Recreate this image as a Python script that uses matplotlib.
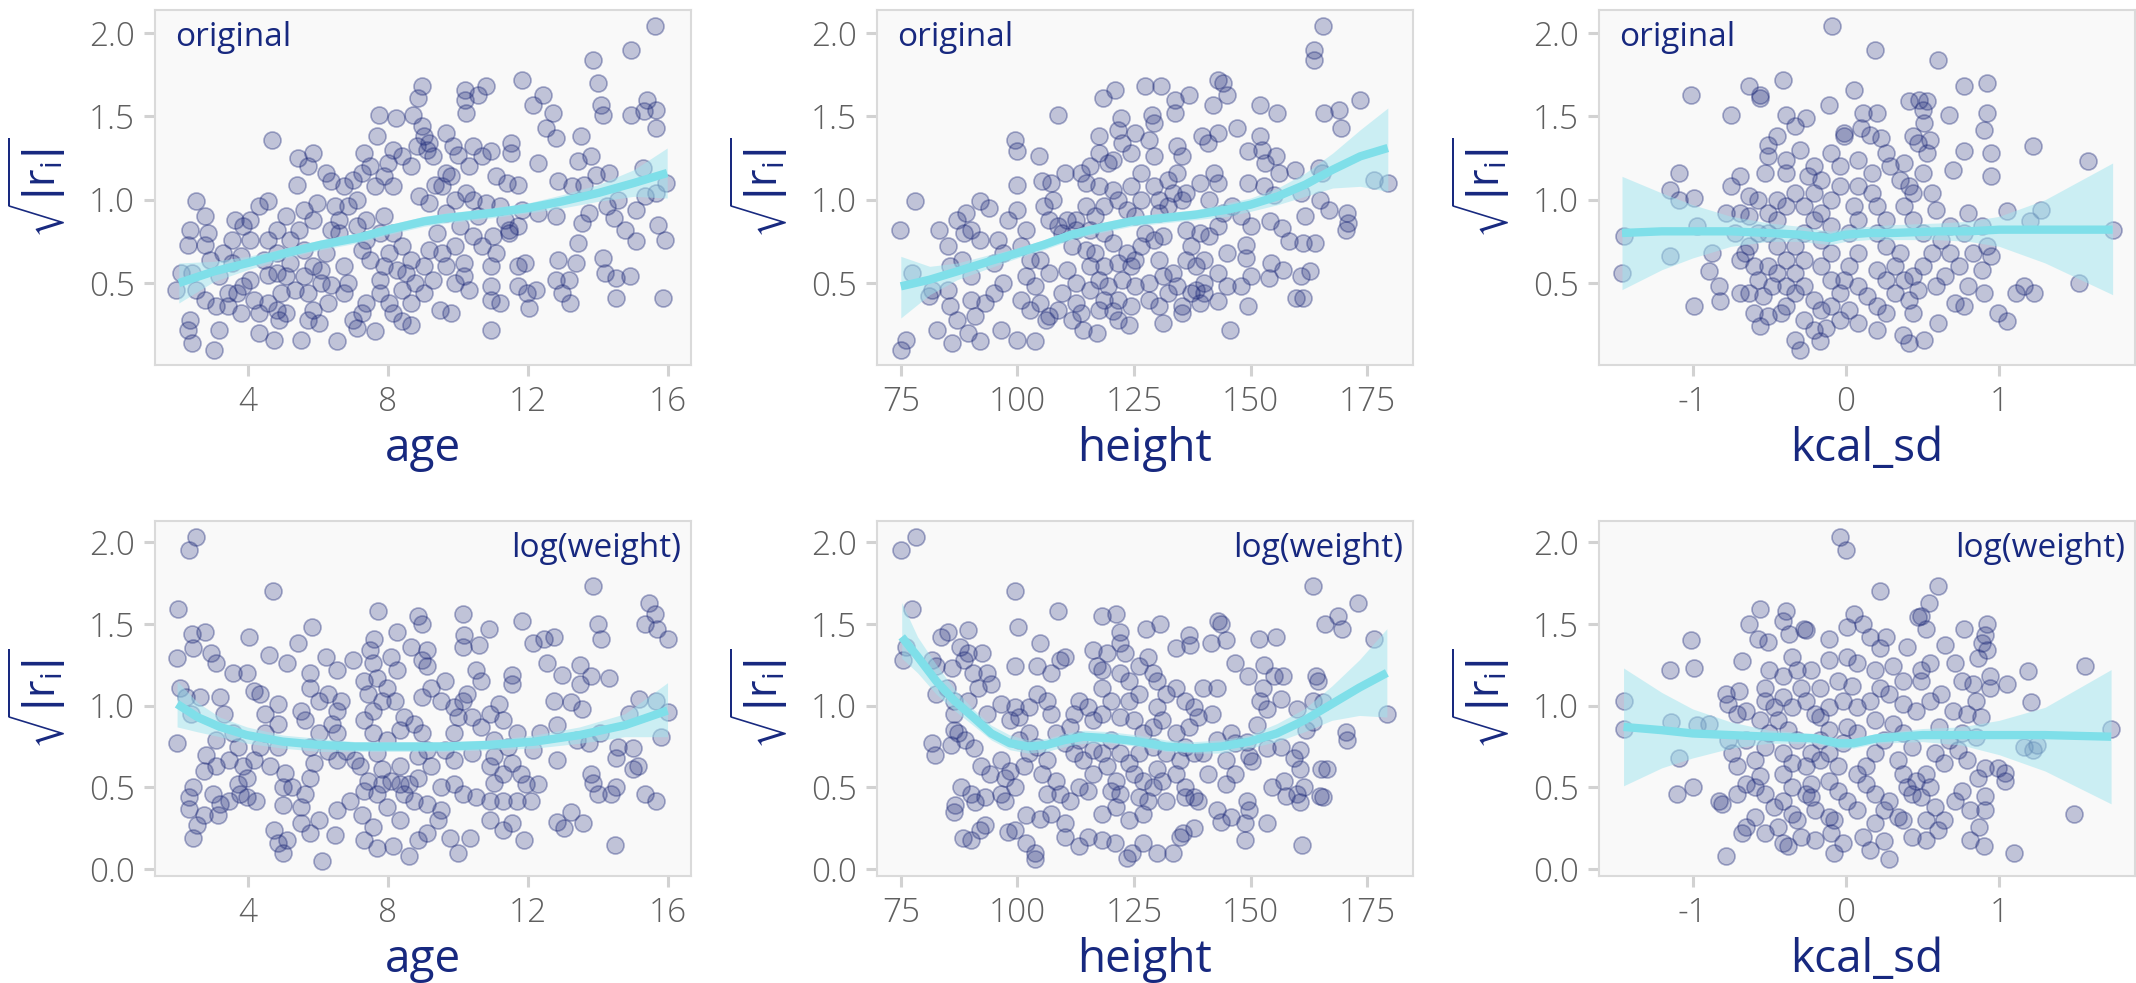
import matplotlib
matplotlib.use("Agg")
import matplotlib.pyplot as plt
from matplotlib import font_manager

# ---------------- data ----------------
# top row: sqrt(|r_i|) of the "original" model
age_orig_x = [15.63, 14.93, 13.85, 14.0, 11.83, 12.43, 12.13, 12.7, 14.09, 14.15, 14.93, 15.4, 15.66, 15.3, 15.66,
              12.5, 12.8, 13.5, 10.8, 10.2, 10.2, 10.57, 10.22, 8.97, 8.87, 8.71, 7.73, 8.24, 8.97, 9.03, 9.16, 9.67,
              7.69, 4.70, 11.52, 11.5, 10.43, 10.94, 9.86, 9.99, 10.69, 12.28, 13.43, 13.8, 13.93, 14.32, 15.27,
              15.95, 15.66, 12.85, 13.24, 13.6, 5.85, 5.44, 5.72, 5.4, 6.23, 6.36, 2.53, 2.78, 2.34, 2.85, 2.78,
              2.28, 2.09, 1.96, 2.4, 2.53, 2.34, 2.28, 2.4, 3.02, 3.17, 3.1, 2.79, 3.43, 3.55, 3.62, 3.87, 4.06,
              4.32, 4.57, 3.81, 3.87, 3.81, 4.32, 4.76, 5.53, 6.55, 7.63, 7.12, 7.0, 8.65, 8.4, 10.94, 9.8, 9.48,
              4.89, 5.08, 4.57, 4.06, 4.57, 5.08, 4.96, 5.85, 5.72, 6.04, 6.29, 6.1, 6.36, 5.85, 6.23, 6.74, 6.87,
              6.74, 7.38, 7.25, 7.76, 7.76, 7.5, 7.25, 7.12, 7.38, 7.89, 8.14, 8.4, 8.65, 8.52, 8.78, 9.03, 9.16,
              9.41, 9.67, 9.92, 9.54, 9.8, 9.35, 10.24, 10.43, 10.81, 11.07, 11.39, 11.71, 10.43, 9.92, 10.17,
              10.17, 9.92, 10.3, 10.94, 11.07, 11.0, 11.45, 11.71, 11.33, 10.94, 10.94, 11.2, 11.71, 11.9, 11.71,
              11.96, 12.02, 12.22, 12.79, 12.85, 13.36, 12.79, 13.17, 12.98, 13.2, 13.43, 13.55, 13.74, 14.13,
              14.2, 14.51, 14.51, 14.92, 14.26, 14.45, 14.77, 15.08, 15.08, 15.72, 15.91, 15.85, 14.58, 15.34,
              11.83, 12.28, 8.9, 9.16, 8.14, 7.63, 7.25, 7.5, 8.0, 8.14, 7.31, 8.4, 8.65, 7.89, 6.99, 6.74, 7.12,
              6.87, 6.49, 5.98, 5.59, 5.85, 5.46, 5.08, 4.83, 4.57, 5.21, 5.59, 4.83, 4.45, 6.61, 6.61, 6.36, 7.38,
              7.76, 8.02, 7.89, 8.27, 8.4, 8.02, 8.14, 8.65, 9.03, 9.28, 9.67, 9.54, 10.05, 10.56, 10.69, 9.67,
              9.28, 8.84, 9.1, 10.3, 11.2, 11.45, 4.06, 3.55, 3.3, 3.17, 2.92, 3.43, 3.68, 4.19, 4.32, 4.83, 5.34,
              5.59, 5.72, 6.1, 5.21, 4.83]
age_orig_y = [2.04, 1.90, 1.84, 1.70, 1.72, 1.63, 1.57, 1.52, 1.57, 1.51, 1.51, 1.60, 1.54, 1.53, 1.43,
              1.43, 1.37, 1.38, 1.68, 1.66, 1.60, 1.63, 1.52, 1.68, 1.61, 1.51, 1.51, 1.49, 1.44, 1.38, 1.34, 1.40,
              1.38, 1.36, 1.34, 1.28, 1.32, 1.29, 1.32, 1.27, 1.26, 1.22, 1.23, 1.26, 1.15, 1.16, 1.19,
              1.10, 1.04, 1.11, 1.08, 1.09, 1.28, 1.25, 1.20, 1.09, 1.16, 1.11, 0.99, 0.90, 0.82, 0.80, 0.73,
              0.73, 0.56, 0.46, 0.56, 0.46, 0.28, 0.22, 0.14, 0.10, 0.22, 0.36, 0.40, 0.44, 0.62, 0.88, 0.84, 0.88,
              0.96, 0.99, 0.66, 0.48, 0.32, 0.20, 0.16, 0.16, 0.15, 0.21, 0.23, 0.28, 0.25, 0.27, 0.22, 0.32, 0.34,
              0.28, 0.32, 0.38, 0.52, 0.55, 0.54, 0.44, 0.34, 0.28, 0.26, 0.38, 0.50, 0.49, 0.60, 0.68, 0.60, 0.50,
              0.44, 0.38, 0.32, 0.44, 0.52, 0.64, 0.70, 0.84, 0.88, 0.90, 0.80, 0.72, 0.64, 0.56, 0.50, 0.60, 0.70,
              0.80, 0.92, 1.00, 1.08, 1.14, 1.09, 1.04, 1.00, 0.98, 1.14, 1.10, 1.09, 0.78, 0.72, 0.62,
              0.54, 0.50, 0.46, 0.60, 0.68, 0.78, 0.82, 0.84, 0.88, 0.48, 0.40, 0.38, 0.60, 0.62, 0.48,
              0.44, 0.35, 0.46, 0.90, 0.64, 0.62, 0.52, 0.52, 0.44, 0.38, 0.74, 0.86, 0.92, 0.65,
              0.56, 0.53, 0.41, 0.54, 0.96, 0.89, 0.82, 0.94, 0.75, 0.85, 0.76, 0.41, 1.00, 1.02,
              0.94, 0.92, 1.02, 0.98, 1.08, 1.08, 1.16, 1.20, 1.22, 1.30, 1.28, 1.26, 1.20, 1.14, 1.12, 1.08, 1.00,
              0.96, 0.96, 0.98, 0.94, 0.88, 0.82, 0.90, 0.82, 0.76, 0.76, 0.70, 0.68, 0.64, 0.80, 0.88, 0.82, 0.76,
              0.80, 0.68, 0.60, 0.58, 0.46, 0.38, 0.32, 0.38, 0.44, 0.52, 0.60, 0.68, 0.84, 0.90, 0.72, 1.16,
              1.26, 1.32, 1.30, 1.20, 0.96, 0.80, 0.76, 0.76, 0.68, 0.54, 0.64, 0.36, 0.44, 0.40, 0.32, 0.34, 0.46,
              0.54, 0.44, 0.58, 0.62, 0.56]

height_orig_x = [165.5, 163.5, 163.5, 143.1, 144.1, 145.0, 141.9, 136.7, 133.7, 133.7, 127.4, 130.8, 121.0, 118.3,
                 108.7, 122.3, 128.9, 129.3, 151.9, 155.6, 165.7, 168.9, 173.5, 169.3, 147.0, 143.1, 139.6, 140.9,
                 151.9, 152.4, 149.5, 155.5, 153.0, 156.0, 159.4, 164.7, 165.2, 176.5, 179.4, 149.5, 152.9, 154.9,
                 160.8, 164.8, 166.7, 170.6, 170.9, 170.4, 161.7, 158.3, 161.3, 163.8, 156.7, 154.1, 150.0, 149.0,
                 149.0, 154.4, 156.9, 153.9, 150.0, 160.8, 162.7, 159.8, 161.3, 145.5, 149.5, 148.0, 145.0, 143.1,
                 139.1, 138.2, 135.2, 135.2, 131.3, 130.3, 123.9, 121.5, 120.5, 117.5, 117.0, 114.1, 111.6, 108.7,
                 106.2, 103.8, 99.9, 96.4, 92.0, 89.5, 85.9, 82.7, 75.1, 76.1, 81.0, 81.7, 77.3, 74.8, 78.0, 83.2,
                 85.1, 87.1, 89.0, 92.0, 94.0, 88.6, 90.0, 92.0, 85.6, 88.1, 90.0, 85.1, 85.6, 87.1, 90.0, 91.0,
                 93.0, 95.0, 96.9, 95.0, 96.9, 95.9, 97.9, 99.9, 99.9, 99.4, 99.9, 104.6, 105.3, 107.2, 110.2, 101.8,
                 100.8, 102.8, 101.8, 103.8, 100.8, 102.8, 104.8, 106.7, 105.7, 107.7, 106.7, 108.7, 109.6, 110.6,
                 112.6, 111.6, 114.6, 116.6, 115.6, 118.5, 117.5, 119.5, 121.5, 122.4, 124.4, 126.4, 127.4, 129.3,
                 131.3, 130.3, 133.3, 134.2, 136.2, 138.2, 140.1, 137.2, 136.2, 139.1, 141.1, 135.2, 136.2, 133.3,
                 130.3, 132.3, 134.2, 142.1, 143.1, 139.1, 135.2, 134.2, 129.3, 128.3, 125.3, 124.4, 122.4, 121.5,
                 117.5, 117.5, 119.5, 120.5, 115.6, 113.6, 114.6, 117.5, 120.5, 121.5, 123.4, 125.3, 126.4, 124.4,
                 126.4, 129.3, 130.3, 118.5, 116.6, 114.6, 112.6, 115.6, 118.5, 120.5, 123.4, 125.3, 121.5, 125.3,
                 128.3, 131.3, 132.3, 128.3, 124.4, 118.5, 115.6, 112.6, 110.6, 109.6, 112.6, 113.6, 106.7, 104.8,
                 132.3, 141.1, 144.1, 143.1, 146.0, 148.0, 145.0, 143.1, 140.1, 137.2, 140.1]
height_orig_y = [2.04, 1.90, 1.84, 1.72, 1.70, 1.63, 1.57, 1.63, 1.60, 1.52, 1.68, 1.68, 1.66, 1.61,
                 1.51, 1.49, 1.51, 1.46, 1.57, 1.52, 1.52, 1.54, 1.60, 1.43, 1.43, 1.40, 1.38, 1.34,
                 1.38, 1.30, 1.29, 1.26, 1.22, 1.16, 1.18, 1.19, 1.16, 1.12, 1.10, 1.10, 1.08, 1.03,
                 1.04, 1.00, 0.94, 0.92, 0.86, 0.82, 0.90, 0.75, 0.74, 0.74, 0.83, 0.87, 0.84, 0.73,
                 0.65, 0.62, 0.58, 0.53, 0.54, 0.54, 0.57, 0.41, 0.41, 0.22, 0.36, 0.48, 0.48, 0.39,
                 0.38, 0.46, 0.36, 0.32, 0.26, 0.36, 0.25, 0.28, 0.33, 0.34, 0.20, 0.22, 0.28, 0.34,
                 0.28, 0.15, 0.16, 0.22, 0.15, 0.20, 0.14, 0.22, 0.10, 0.16, 0.42, 0.46, 0.56, 0.82, 0.99, 0.82,
                 0.72, 0.88, 0.92, 0.99, 0.95, 0.80, 0.82, 0.76, 0.60, 0.64, 0.54, 0.46, 0.36, 0.28, 0.40, 0.30,
                 0.38, 0.44, 0.50, 0.62, 0.68, 0.76, 0.88, 0.94, 1.09, 1.36, 1.29, 1.26, 1.11, 1.10, 1.16, 0.82,
                 0.72, 0.64, 0.54, 0.48, 0.40, 0.34, 0.38, 0.30, 0.96, 1.00, 0.88, 0.84, 0.80, 0.88,
                 0.82, 0.72, 0.70, 0.68, 0.60, 0.60, 0.52, 0.48, 0.40, 0.52, 0.60, 0.72, 0.80, 0.76,
                 0.78, 0.64, 0.56, 0.48, 0.64, 0.60, 0.64, 0.72, 0.82, 0.80, 0.78, 1.00, 1.04, 1.04,
                 1.00, 1.12, 1.16, 1.16, 1.10, 1.10, 1.26, 1.32, 1.26, 1.36, 1.40, 1.28, 1.34, 1.42,
                 1.38, 1.28, 1.22, 1.24, 1.20, 1.16, 1.10, 1.08, 1.06, 1.00, 0.94, 0.90, 1.00, 1.08,
                 1.16, 1.08, 0.92, 0.96, 0.90, 0.96, 0.88, 0.82, 0.80, 0.74, 0.68, 0.64, 0.62, 0.48,
                 0.50, 0.54, 0.44, 0.40, 0.36, 0.40, 0.46, 0.50, 0.58, 0.44, 0.38, 0.32, 0.56, 0.64,
                 0.96, 1.00, 0.92, 0.84, 0.96, 0.90, 0.68, 0.56, 0.50, 0.44, 0.44]

kcal_orig_x = [-0.09, 0.19, 0.60, -0.41, -0.63, -0.56, -0.56, -1.01, 0.05, 0.77, 0.92, -0.11, -0.75, -0.39, -0.26,
               0.11, 0.20, 0.41, 0.48, 0.53, 0.50, 0.51, 0.67, 0.92, 0.90, 0.10, -0.01, -0.01, 0.16, 0.23, -0.33,
               -0.45, -0.51, 0.44, 0.47, 0.55, 0.77, 0.95, 1.22, 1.58, 0.70, 0.95, 0.26, -0.10, 0.08, -0.51, -0.53,
               -0.39, -0.30, -0.39, -0.25, -1.09, -1.15, -1.09, -0.99, -0.97, -1.15, -1.45, -1.46, -0.99, -0.82,
               -0.69, -0.89, -0.87, -0.83, -0.78, -0.75, -0.69, -0.63, -0.69, -0.72, -0.66, -0.60, -0.57, -0.54,
               -0.60, -0.56, -0.51, -0.39, -0.33, -0.30, -0.21, -0.17, -0.13, -0.10, 0.02, 0.08, 0.20, 0.37, 0.41,
               0.51, 0.60, 0.71, 0.77, 0.90, 0.99, 1.05, 1.11, 1.16, 1.23, 1.52, 1.20, 1.27, 1.05, 1.74, 0.95, 0.92,
               0.89, 0.80, 0.77, 0.83, 0.74, 0.68, 0.62, 0.59, 0.56, 0.50, 0.41, 0.35, 0.29, 0.38, 0.44, 0.50, 0.56,
               0.50, 0.44, 0.47, 0.41, 0.44, 0.59, 0.32, 0.26, 0.20, 0.32, 0.35, 0.26, 0.20, 0.26, 0.20, 0.17, 0.08,
               0.05, 0.08, 0.02, 0.08, 0.02, -0.01, 0.08, 0.14, 0.20, -0.04, -0.10, -0.16, -0.10, -0.16, -0.10,
               -0.16, -0.10, -0.04, -0.16, -0.21, -0.27, -0.21, -0.27, -0.33, -0.27, -0.33, -0.27, -0.33, -0.21,
               -0.16, -0.39, -0.45, -0.39, -0.45, -0.51, -0.45, -0.39, -0.33, -0.45, -0.51, -0.57, -0.63, -0.57,
               -0.63, -0.69, -0.51, -0.48, -0.63, -0.42, -0.27, -0.04, 0.26, 0.38, 0.65, 0.80, 0.89, 0.68, 0.44,
               0.53, 0.38, 0.17, -0.04, -0.21]
kcal_orig_y = [2.04, 1.90, 1.84, 1.72, 1.68, 1.63, 1.61, 1.63, 1.66, 1.68, 1.70, 1.57, 1.51, 1.51, 1.49,
               1.52, 1.52, 1.59, 1.60, 1.59, 1.54, 1.46, 1.51, 1.52, 1.42, 1.43, 1.40, 1.38, 1.39, 1.37, 1.44,
               1.38, 1.33, 1.38, 1.34, 1.36, 1.29, 1.28, 1.32, 1.23, 1.18, 1.14, 1.28, 1.28, 1.24, 1.26, 1.16,
               1.24, 1.30, 1.16, 1.14, 1.16, 1.06, 1.00, 1.01, 0.84, 0.66, 0.78, 0.56, 0.36, 0.39,
               0.44, 0.57, 0.68, 0.48, 0.92, 1.08, 1.14, 1.02, 0.92, 0.80, 0.68, 0.60, 0.52, 0.42,
               0.32, 0.24, 0.30, 0.36, 0.16, 0.10, 0.22, 0.15, 0.23, 0.36, 0.34, 0.26, 0.22, 0.19, 0.14,
               0.16, 0.26, 0.38, 0.36, 0.44, 0.32, 0.27, 0.44, 0.48, 0.44, 0.50, 0.87, 0.94, 0.93, 0.82, 0.66, 0.72,
               0.84, 0.92, 0.80, 0.68, 0.60, 0.68, 0.76, 0.94, 1.04, 1.16, 1.08, 1.12, 1.20, 0.96, 0.88, 0.80, 0.68,
               0.60, 0.54, 0.46, 0.40, 0.32, 0.48, 0.44, 0.52, 0.58, 0.60, 0.68, 0.72, 0.80, 0.88, 0.96, 1.04, 1.08,
               0.96, 0.88, 0.80, 0.68, 0.60, 0.52, 0.48, 0.42, 0.36, 0.44, 0.52, 0.60, 0.68, 0.76, 0.84,
               0.92, 1.00, 1.08, 1.12, 1.04, 0.96, 0.88, 0.80, 0.72, 0.64, 0.56, 0.48, 0.44, 0.40,
               0.34, 0.48, 0.56, 0.64, 0.72, 0.80, 0.88, 0.96, 1.04, 1.00, 0.92, 1.00, 0.90, 0.80,
               0.72, 0.64, 0.60, 0.48, 0.44, 0.32, 0.28, 0.28, 0.32, 0.52, 0.54, 0.48, 0.58, 0.84, 1.04,
               1.28, 1.22, 1.16, 1.20, 1.20]

# bottom row: sqrt(|r_i|) of the log(weight) model
age_log_x = [2.52, 2.31, 4.71, 2.02, 13.86, 7.72, 10.14, 8.85, 8.98, 11.84, 13.99, 14.09, 15.44, 15.63, 15.33,
             15.68, 16.0, 5.84, 8.25, 10.87, 10.17, 12.13, 12.45, 12.74, 4.04, 2.40, 2.78, 5.42, 7.6, 7.48, 10.14,
             10.59, 9.11, 2.43, 1.98, 2.95, 3.08, 4.59, 6.22, 6.99, 8.27, 9.11, 10.52, 11.55, 12.55, 13.47, 12.96,
             13.8, 14.31, 13.47, 12.74, 13.22, 13.54, 15.17, 15.66, 16.0, 14.89, 12.83, 12.83, 13.41, 13.73,
             14.05, 14.56, 14.5, 15.0, 15.78, 15.14, 14.99, 13.8, 13.86, 14.5, 14.37, 13.99, 15.33, 15.66, 12.83,
             13.03, 13.22, 13.58, 14.48, 11.87, 11.29, 10.91, 11.55, 10.33, 10.01, 9.76, 9.43, 9.11, 8.85, 8.6,
             8.15, 7.70, 7.31, 7.57, 7.25, 6.48, 5.77, 6.13, 5.0, 4.74, 4.87, 5.13, 5.51, 6.03, 5.0, 4.23, 3.97,
             3.78, 3.46, 3.2, 3.14, 2.75, 2.56, 2.43, 2.31, 2.31, 2.43, 3.01, 2.75, 3.08, 2.82, 1.98, 2.37, 2.05,
             2.24, 2.63, 3.08, 3.2, 3.33, 3.59, 3.72, 3.46, 3.85, 3.97, 3.72, 4.17, 4.36, 4.49, 4.36, 4.49, 4.87,
             4.87, 4.87, 4.62, 5.06, 5.0, 5.26, 5.64, 5.77, 5.9, 5.77, 6.03, 5.64, 5.51, 5.77, 6.03, 6.28, 6.54,
             6.67, 6.41, 6.54, 6.28, 6.54, 6.8, 7.06, 7.19, 7.44, 7.31, 7.7, 7.83, 8.08, 8.34, 8.47, 8.73, 8.6,
             8.85, 8.34, 7.83, 7.7, 7.96, 7.57, 7.31, 7.57, 7.83, 7.44, 7.31, 7.7, 7.96, 8.21, 8.47, 8.34, 8.73,
             8.98, 9.11, 8.85, 9.24, 8.98, 9.24, 9.62, 9.50, 9.88, 10.14, 10.01, 10.40, 9.88, 9.62, 9.88, 9.5,
             9.88, 10.14, 10.52, 10.4, 10.65, 10.91, 11.17, 11.29, 11.04, 11.04, 10.91, 11.04, 10.91, 11.29,
             11.29, 11.55, 11.81, 11.94, 11.68, 12.07, 12.27, 11.42, 11.68, 12.33, 12.13, 11.55, 10.65, 10.27,
             8.66, 8.98, 8.08, 7.57, 6.54, 5.77, 5.13, 3.97, 3.59, 4.17, 5.51, 6.54, 6.93, 7.96, 8.34, 9.11, 9.5]
age_log_y = [2.03, 1.95, 1.70, 1.59, 1.73, 1.58, 1.56, 1.55, 1.50, 1.52, 1.50, 1.41, 1.63, 1.56, 1.50,
             1.47, 1.41, 1.48, 1.45, 1.47, 1.43, 1.38, 1.41, 1.42, 1.42, 1.44, 1.45, 1.38, 1.41, 1.34, 1.36,
             1.37, 1.34, 1.35, 1.29, 1.32, 1.26, 1.31, 1.30, 1.28, 1.22, 1.24, 1.22, 1.19, 1.26, 1.25, 1.19,
             1.18, 1.17, 1.13, 1.03, 1.02, 0.98, 1.04, 1.03, 0.96, 0.95, 0.88, 0.67, 0.79, 0.77,
             0.83, 0.75, 0.68, 0.74, 0.81, 0.63, 0.61, 0.58, 0.53, 0.50, 0.46, 0.46, 0.46, 0.42, 0.29,
             0.25, 0.35, 0.28, 0.15, 0.18, 0.24, 0.30, 0.28, 0.19, 0.10, 0.19, 0.30, 0.22, 0.18, 0.08,
             0.14, 0.13, 0.18, 0.26, 0.33, 0.21, 0.22, 0.05, 0.10, 0.24, 0.16, 0.18, 0.28, 0.30, 0.39, 0.42, 0.44,
             0.46, 0.42, 0.40, 0.33, 0.33, 0.27, 0.19, 0.37, 0.44, 0.50, 0.46, 0.60, 0.63, 0.70, 0.77, 0.95, 1.11,
             1.05, 1.05, 0.79, 1.05, 0.95, 0.83, 0.75, 0.67, 0.63, 0.56, 0.52, 0.67, 0.75, 0.83, 1.07, 0.95, 1.01,
             0.89, 0.75, 0.63, 0.59, 0.50, 0.50, 0.46, 0.56, 0.65, 0.75, 0.83, 0.91, 0.97, 1.11, 1.03, 1.07, 0.97,
             1.03, 0.89, 0.83, 0.72, 0.67, 0.72, 0.67, 0.63, 0.54, 0.48, 0.46, 0.52, 0.54, 0.52, 0.46, 0.42, 0.52,
             0.56, 0.63, 0.61, 0.71, 0.79, 0.83, 0.91, 0.97, 1.03, 1.07, 1.15, 1.17, 1.11, 1.03, 0.93, 0.85, 0.89,
             0.83, 0.73, 0.69, 0.63, 1.05, 1.11, 1.15, 1.03, 0.99, 1.03, 0.93, 0.93, 0.83, 0.73, 0.67, 0.50,
             0.52, 0.46, 0.44, 0.71, 0.87, 0.95, 1.01, 0.91, 0.79, 0.69, 0.63, 0.53, 0.42, 0.42,
             0.58, 0.65, 0.58, 0.52, 0.42, 0.42, 0.52, 0.75, 0.83, 0.83, 0.73, 1.13, 1.15, 1.07,
             1.36, 1.28, 1.30, 1.26, 1.22, 1.20, 1.26, 1.20, 1.20, 1.09, 0.38, 0.36, 0.42, 0.38, 0.30, 0.40, 0.36]

height_log_x = [75.0, 78.2, 77.5, 75.5, 76.2, 99.4, 100.1, 108.7, 118.1, 121.1, 122.0, 127.5, 130.6, 143.1, 143.7,
                136.8, 137.1, 133.9, 141.6, 144.7, 151.8, 155.4, 163.3, 173.0, 165.9, 168.7, 169.6, 176.4, 146.7,
                152.9, 149.5, 155.1, 157.0, 163.9, 164.4, 152.6, 156.6, 152.1, 153.6, 163.4, 165.4, 160.0, 163.4,
                161.9, 170.4, 170.7, 179.2, 151.4, 153.6, 156.6, 160.5, 159.3, 160.5, 165.0, 166.4, 149.2, 149.7,
                150.2, 154.6, 157.1, 157.5, 160.0, 160.5, 161.5, 164.9, 165.4, 161.0, 153.6, 148.7, 148.7, 149.7,
                149.2, 145.7, 143.7, 142.8, 144.8, 146.7, 140.8, 137.8, 138.8, 135.9, 137.8, 134.9, 135.4, 133.4,
                129.9, 127.0, 124.5, 123.5, 121.0, 118.1, 115.1, 113.2, 110.2, 110.2, 107.2, 103.8, 103.8, 101.8,
                99.4, 97.9, 101.8, 104.8, 93.0, 92.0, 90.0, 88.3, 86.5, 86.7, 88.0, 90.0, 91.0, 93.0, 81.6, 82.4,
                85.8, 87.3, 88.7, 90.7, 92.2, 94.2, 96.4, 97.4, 98.4, 96.4, 97.4, 99.4, 101.4, 102.4, 100.4, 102.4,
                104.3, 106.3, 105.3, 108.2, 106.3, 109.2, 111.2, 113.2, 115.1, 116.1, 114.1, 112.1, 110.2, 108.2,
                111.2, 107.2, 106.3, 104.3, 107.2, 109.2, 110.2, 104.8, 104.3, 99.4, 99.4, 100.4, 98.4, 102.4,
                113.2, 115.1, 112.1, 116.1, 118.1, 120.0, 118.1, 117.1, 118.1, 116.1, 119.1, 122.0, 123.0, 122.0,
                124.0, 126.0, 128.0, 129.0, 129.9, 126.0, 124.0, 122.0, 125.0, 127.0, 129.0, 130.9, 129.9, 131.9,
                133.9, 135.9, 137.8, 139.8, 142.8, 141.8, 138.8, 136.8, 133.9, 135.9, 137.8, 134.9, 131.9, 129.0,
                126.0, 124.0, 122.0, 120.0, 118.1, 119.1, 121.1, 120.0, 122.0, 121.1, 118.1, 125.0, 127.0, 129.0,
                130.9, 128.0, 126.0, 131.9, 127.0, 124.0, 129.9, 133.9, 135.9, 139.8, 142.8, 145.7, 146.7, 144.7,
                116.1, 113.2, 90.5, 88.5, 89.5, 87.6, 85.1, 83.6, 89.5, 92.5, 93.5, 94.4, 86.0, 81.6, 82.6, 85.0,
                86.5, 89.5, 93.5, 86.5, 82.6, 96.4, 91.5, 86.5]
height_log_y = [1.95, 2.03, 1.59, 1.28, 1.36, 1.70, 1.48, 1.58, 1.55, 1.56, 1.45, 1.47, 1.50, 1.52, 1.50,
                1.43, 1.37, 1.35, 1.38, 1.40, 1.41, 1.42, 1.73, 1.63, 1.50, 1.55, 1.47, 1.41, 1.26,
                1.25, 1.18, 1.18, 1.18, 1.18, 1.15, 1.11, 1.04, 1.03, 0.98, 1.03, 1.02, 0.98, 0.90,
                0.85, 0.84, 0.79, 0.95, 0.88, 0.74, 0.75, 0.73, 0.68, 0.61, 0.61, 0.61, 0.78, 0.69,
                0.66, 0.50, 0.54, 0.45, 0.46, 0.41, 0.50, 0.45, 0.44, 0.15, 0.28, 0.18, 0.28, 0.36,
                0.42, 0.32, 0.29, 0.36, 0.52, 0.58, 0.58, 0.44, 0.42, 0.44, 0.25, 0.20, 0.22, 0.10,
                0.10, 0.16, 0.10, 0.07, 0.16, 0.18, 0.20, 0.14, 0.20, 0.28, 0.34, 0.10, 0.06, 0.16,
                0.24, 0.23, 0.33, 0.31, 0.27, 0.24, 0.18, 0.19, 0.35, 0.39, 0.50, 0.46, 0.41, 0.44, 0.77, 0.70,
                0.76, 0.83, 0.79, 0.74, 0.63, 0.58, 0.67, 0.56, 0.60, 0.46, 0.42, 0.50, 0.63, 0.71, 0.79, 0.83,
                0.75, 0.67, 0.58, 0.54, 0.46, 0.46, 0.42, 0.50, 0.48, 0.58, 0.67, 0.71, 0.77, 0.83,
                0.87, 0.95, 1.03, 1.07, 1.20, 1.28, 1.30, 1.38, 1.24, 1.24, 0.99, 0.93, 0.91, 0.99,
                1.03, 0.99, 0.95, 0.91, 0.95, 1.03, 1.11, 1.24, 1.22, 1.34, 1.32, 1.38, 1.32, 1.20,
                1.15, 1.24, 1.30, 1.20, 1.15, 1.07, 1.03, 0.93, 0.91, 0.83, 0.87, 0.91, 0.99, 1.07,
                1.11, 1.03, 0.99, 1.11, 1.11, 0.95, 0.93, 0.87, 0.83, 0.75, 0.71, 0.67, 0.71, 0.75,
                0.71, 0.65, 0.71, 0.79, 0.71, 0.63, 0.54, 0.48, 0.46, 0.38, 0.34, 0.58, 0.54, 0.50,
                0.54, 0.42, 0.44, 0.42, 0.34, 0.30, 0.61, 0.58, 0.50, 0.71, 0.79, 0.83, 0.77, 0.67,
                0.73, 0.79, 1.20, 1.28, 1.32, 1.36, 1.45, 1.42, 1.46, 1.32, 1.20, 1.13, 1.23, 1.28, 1.24, 1.11,
                1.03, 1.03, 0.95, 0.95, 1.07, 1.01, 1.11, 0.85]

kcal_log_x = [-0.04, 0.0, 0.22, 0.60, 0.54, 0.49, 0.47, -0.56, -0.39, -0.41, -0.63, -0.26, -0.27, 0.05, 0.11,
              0.01, 0.52, 0.77, 0.92, 0.91, 0.89, 0.92, -1.01, -0.57, -0.51, -0.37, -0.11, 0.16, 0.26, 0.40, 0.22,
              0.65, 0.86, 0.71, 1.19, 1.56, 0.94, 1.05, 1.21, 0.76, -1.15, -0.99, -0.68, -0.50, -0.35, -0.32,
              -0.41, -0.23, -0.11, 0.01, 0.07, 0.19, 0.31, 0.49, 0.55, 0.49, 0.37, 0.22, 0.04, -0.05, -0.17,
              -0.29, -0.53, -0.53, -0.70, -0.78, -0.77, -0.71, -0.65, -0.56, -0.47, -0.41, -0.35, -0.26, -0.20,
              -0.11, -0.02, 0.07, 0.16, 0.28, 0.37, 0.46, 0.55, 0.62, 0.70, 0.79, 0.85, 0.88, 0.83, 0.94, -1.45,
              -1.45, -1.14, -0.97, -0.89, -1.09, -1.10, -1.0, -0.83, -0.81, -0.78, -0.68, -0.65, -0.53, -0.41,
              -0.38, -0.29, -0.20, -0.10, -0.08, -0.02, 0.11, 0.16, 0.28, 0.25, 0.43, 0.52, 0.60, 0.81, 0.90,
              0.87, 0.91, 0.91, 0.81, 0.71, 0.76, 1.10, 1.49, 1.04, 1.04, 0.99, 1.16, 1.25, 1.22, 1.73, 0.91,
              0.86, 0.79, 0.73, 0.64, 0.58, 0.52, 0.55, 0.49, 0.43, 0.40, 0.46, 0.37, 0.34, 0.43, 0.37, 0.31,
              0.25, 0.19, 0.13, 0.07, 0.13, 0.19, 0.28, 0.25, 0.34, 0.37, 0.19, 0.07, 0.01, -0.05, -0.11, -0.05,
              -0.11, -0.02, 0.07, 0.01, -0.11, -0.17, -0.23, -0.26, -0.23, -0.26, -0.23, -0.20, -0.11, -0.08,
              -0.35, -0.41, -0.35, -0.41, -0.35, -0.41, -0.32, -0.38, -0.44, -0.50, -0.53, -0.59, -0.56, -0.59,
              -0.53, -0.65, -0.71, -0.74, -0.77, -0.65, -0.71, -0.47, -0.59, -0.44, -0.32, -0.17, -0.17, 0.19,
              0.61, 0.76, 0.67, 0.85, 0.58, 0.64, 0.52]
kcal_log_y = [2.03, 1.95, 1.70, 1.73, 1.63, 1.55, 1.54, 1.59, 1.58, 1.52, 1.50, 1.46, 1.47, 1.56, 1.50,
              1.48, 1.47, 1.47, 1.50, 1.43, 1.38, 1.34, 1.40, 1.41, 1.39, 1.44, 1.41, 1.42, 1.42, 1.36, 1.35,
              1.37, 1.29, 1.26, 1.21, 1.24, 1.18, 1.13, 1.02, 1.15, 1.22, 1.23, 1.27, 1.22, 1.30, 1.22,
              1.18, 1.22, 1.28, 1.30, 1.26, 1.22, 1.24, 1.22, 1.26, 1.15, 1.15, 1.11, 1.12, 1.15, 1.11,
              1.11, 1.11, 1.03, 1.09, 1.07, 1.01, 0.95, 0.97, 0.91, 0.99, 1.05, 0.99, 1.03, 0.95,
              0.99, 1.03, 0.99, 1.03, 1.07, 1.01, 0.97, 1.03, 1.07, 0.97, 0.95, 1.03, 0.93, 1.13, 1.11, 1.03,
              0.86, 0.90, 0.88, 0.89, 0.68, 0.46, 0.50, 0.42, 0.40, 0.08, 0.22, 0.26, 0.22, 0.16,
              0.14, 0.20, 0.18, 0.22, 0.10, 0.16, 0.20, 0.12, 0.06, 0.17, 0.20, 0.18, 0.24, 0.18, 0.14,
              0.26, 0.36, 0.45, 0.36, 0.42, 0.48, 0.10, 0.34, 0.54, 0.59, 0.62, 0.75, 0.76, 0.73, 0.86, 0.62,
              0.56, 0.67, 0.73, 0.65, 0.71, 0.58, 0.50, 0.44, 0.46, 0.50, 0.54, 0.58, 0.67, 0.75, 0.83, 0.89,
              0.79, 0.71, 0.63, 0.58, 0.52, 0.46, 0.42, 0.36, 0.32, 0.30, 0.28, 0.36, 0.42, 0.48, 0.54, 0.63,
              0.71, 0.77, 0.83, 0.87, 0.85, 0.79, 0.71, 0.63, 0.52, 0.46, 0.44, 0.36, 0.32, 0.30,
              0.34, 0.42, 0.50, 0.58, 0.65, 0.71, 0.79, 0.85, 0.91, 0.83, 0.75, 0.67, 0.57, 0.50,
              0.46, 0.52, 0.63, 0.71, 0.79, 0.79, 0.46, 0.38, 0.32, 0.26, 0.30, 0.67, 0.93, 0.91,
              0.87, 0.83, 0.79, 0.81, 0.38, 0.30, 0.30]

# loess smooth line and its confidence band, read at a few x positions
age_orig_sx = [2.03, 3.04, 4.0, 5.08, 6.1, 7.12, 8.01, 9.03, 9.67, 10.94, 12.0, 12.98, 14.0, 15.02, 15.97]
age_orig_sy = [0.50, 0.57, 0.62, 0.68, 0.73, 0.77, 0.82, 0.87, 0.89, 0.92, 0.95, 0.99, 1.04, 1.10, 1.16]
age_orig_lo = [0.38, 0.51, 0.58, 0.65, 0.70, 0.74, 0.79, 0.84, 0.86, 0.89, 0.92, 0.95, 0.99, 1.02, 1.01]
age_orig_hi = [0.62, 0.63, 0.66, 0.71, 0.76, 0.80, 0.85, 0.90, 0.92, 0.95, 0.98, 1.03, 1.09, 1.18, 1.31]

height_orig_sx = [75, 81.2, 87.1, 94, 100, 105.7, 111.6, 117.5, 124.4, 131.3, 138.2, 145, 150, 155.8, 161.7, 167.6,
                  173.5, 179.4]
height_orig_sy = [0.48, 0.52, 0.57, 0.63, 0.68, 0.73, 0.79, 0.83, 0.87, 0.89, 0.91, 0.94, 0.97, 1.02, 1.09, 1.18,
                  1.26, 1.31]
height_orig_lo = [0.29, 0.43, 0.52, 0.59, 0.65, 0.70, 0.76, 0.80, 0.84, 0.86, 0.88, 0.90, 0.93, 0.97, 1.02, 1.07,
                  1.08, 1.05]
height_orig_hi = [0.66, 0.60, 0.62, 0.67, 0.71, 0.76, 0.82, 0.86, 0.90, 0.92, 0.94, 0.98, 1.01, 1.07, 1.16, 1.28,
                  1.42, 1.55]

kcal_orig_sx = [-1.46, -1.2, -1.0, -0.75, -0.5, -0.3, -0.1, 0.0, 0.15, 0.3, 0.6, 0.8, 1.0, 1.3, 1.74]
kcal_orig_sy = [0.80, 0.81, 0.81, 0.81, 0.80, 0.79, 0.77, 0.79, 0.80, 0.80, 0.81, 0.81, 0.82, 0.82, 0.82]
kcal_orig_lo = [0.46, 0.58, 0.65, 0.72, 0.75, 0.75, 0.73, 0.75, 0.76, 0.76, 0.76, 0.75, 0.72, 0.62, 0.43]
kcal_orig_hi = [1.14, 1.04, 0.97, 0.90, 0.86, 0.84, 0.81, 0.83, 0.84, 0.85, 0.86, 0.87, 0.90, 1.00, 1.22]

age_log_sx = [1.98, 2.56, 3.2, 3.97, 5.0, 6.03, 7.06, 8.34, 9.62, 10.91, 12.19, 13.47, 14.76, 15.98]
age_log_sy = [1.01, 0.93, 0.87, 0.82, 0.78, 0.76, 0.75, 0.75, 0.75, 0.76, 0.78, 0.82, 0.88, 0.97]
age_log_lo = [0.87, 0.84, 0.81, 0.77, 0.74, 0.72, 0.72, 0.72, 0.72, 0.73, 0.74, 0.77, 0.81, 0.81]
age_log_hi = [1.15, 1.02, 0.93, 0.87, 0.82, 0.80, 0.78, 0.78, 0.78, 0.79, 0.82, 0.87, 0.95, 1.14]

height_log_sx = [75.2, 78.6, 82.6, 86.5, 90.5, 94.4, 98.4, 102.3, 106.3, 110.2, 114.2, 120.1, 126, 131.9, 137.8,
                 143.7, 149.7, 155.6, 161.5, 167.4, 173.3, 179.2]
height_log_sy = [1.42, 1.30, 1.15, 1.03, 0.93, 0.83, 0.77, 0.75, 0.76, 0.79, 0.81, 0.80, 0.78, 0.75, 0.74, 0.75,
                 0.78, 0.83, 0.91, 1.01, 1.11, 1.20]
height_log_lo = [1.29, 1.20, 1.07, 0.97, 0.88, 0.79, 0.73, 0.71, 0.72, 0.75, 0.77, 0.77, 0.75, 0.72, 0.71, 0.71,
                 0.74, 0.78, 0.84, 0.91, 0.94, 0.93]
height_log_hi = [1.63, 1.42, 1.25, 1.10, 0.98, 0.88, 0.82, 0.79, 0.80, 0.83, 0.85, 0.84, 0.82, 0.79, 0.78, 0.79,
                 0.82, 0.89, 0.98, 1.12, 1.28, 1.47]

kcal_log_sx = [-1.45, -1.2, -1.0, -0.75, -0.5, -0.2, -0.05, 0.05, 0.2, 0.5, 0.75, 1.0, 1.3, 1.73]
kcal_log_sy = [0.87, 0.85, 0.83, 0.82, 0.81, 0.80, 0.77, 0.77, 0.80, 0.82, 0.82, 0.82, 0.82, 0.81]
kcal_log_lo = [0.51, 0.62, 0.68, 0.74, 0.77, 0.77, 0.74, 0.74, 0.77, 0.78, 0.76, 0.70, 0.60, 0.40]
kcal_log_hi = [1.23, 1.08, 0.98, 0.90, 0.85, 0.83, 0.80, 0.80, 0.83, 0.86, 0.87, 0.91, 0.99, 1.22]

x_labels = ["age", "height", "kcal_sd"]
row_tags = ["original", "log(weight)"]
x_ticks = [[4, 8, 12, 16], [75, 100, 125, 150, 175], [-1, 0, 1]]
x_tick_labels = [["4", "8", "12", "16"], ["75", "100", "125", "150", "175"], ["-1", "0", "1"]]
y_ticks = [[0.5, 1.0, 1.5, 2.0], [0.0, 0.5, 1.0, 1.5, 2.0]]
x_limits = [(1.35, 16.65), (69.9, 184.8), (-1.61, 1.886)]
y_limits = [(0.008, 2.138), (-0.041, 2.128)]

# ---------------- style ----------------
TEXT_NAVY = "#17287f"
CYAN = "#7fdfe9"
BAND = "#9fe4ee"
FACE = "#f9f9f9"
SPINE = "#dadada"
TICK = "#d2d2d2"
TICKLABEL = "#5f5f5f"

names = {f.name for f in font_manager.fontManager.ttflist}
base = "Open Sans" if "Open Sans" in names else ("Lato" if "Lato" in names else "DejaVu Sans")
plt.rcParams["font.family"] = [base, "DejaVu Sans"]
plt.rcParams["mathtext.fontset"] = "dejavusans"

W, H = 2136, 983
fig = plt.figure(figsize=(W / 100, H / 100), dpi=100)
fig.patch.set_facecolor("white")

lefts = [155, 877, 1599]
pw = 536
tops = [10, 521]
ph = 355

panels = [
    (age_orig_x, age_orig_y, age_orig_sx, age_orig_sy, age_orig_lo, age_orig_hi),
    (height_orig_x, height_orig_y, height_orig_sx, height_orig_sy, height_orig_lo, height_orig_hi),
    (kcal_orig_x, kcal_orig_y, kcal_orig_sx, kcal_orig_sy, kcal_orig_lo, kcal_orig_hi),
    (age_log_x, age_log_y, age_log_sx, age_log_sy, age_log_lo, age_log_hi),
    (height_log_x, height_log_y, height_log_sx, height_log_sy, height_log_lo, height_log_hi),
    (kcal_log_x, kcal_log_y, kcal_log_sx, kcal_log_sy, kcal_log_lo, kcal_log_hi),
]

for i, (px, py, sx, sy, lo, hi) in enumerate(panels):
    r, c = divmod(i, 3)
    ax = fig.add_axes([lefts[c] / W, 1 - (tops[r] + ph) / H, pw / W, ph / H])
    ax.set_facecolor(FACE)
    ax.scatter(px, py, s=150, facecolor=(0.12, 0.17, 0.48, 0.26),
               edgecolor=(0.12, 0.17, 0.48, 0.38), linewidth=1.2, zorder=2)
    ax.fill_between(sx, lo, hi, color=BAND, alpha=0.5, linewidth=0, zorder=3)
    ax.plot(sx, sy, color=CYAN, lw=6, solid_capstyle="butt", solid_joinstyle="round", zorder=4)

    ax.set_xlim(*x_limits[c])
    ax.set_ylim(*y_limits[r])
    ax.set_xticks(x_ticks[c])
    ax.set_xticklabels(x_tick_labels[c])
    ax.set_yticks(y_ticks[r])
    ax.set_yticklabels([f"{v:.1f}" for v in y_ticks[r]])
    ax.tick_params(length=8, width=2.2, color=TICK, labelsize=24, labelcolor=TICKLABEL, pad=6.5)
    for lab in ax.get_xticklabels() + ax.get_yticklabels():
        lab.set_fontweight("light")
    for sp in ax.spines.values():
        sp.set_color(SPINE)
        sp.set_linewidth(1.5)

    ax.set_xlabel(x_labels[c], fontsize=33, color=TEXT_NAVY, labelpad=5)
    ax.set_ylabel(r"$\sqrt{|\mathregular{r_i}|}$", fontsize=31, color=TEXT_NAVY, labelpad=15)

    if r == 0:
        ax.text(0.037, 0.968, row_tags[r], transform=ax.transAxes, ha="left", va="top",
                fontsize=24, color=TEXT_NAVY)
    else:
        ax.text(0.981, 0.968, row_tags[r], transform=ax.transAxes, ha="right", va="top",
                fontsize=24, color=TEXT_NAVY)

fig.savefig("out.png", dpi=100)
